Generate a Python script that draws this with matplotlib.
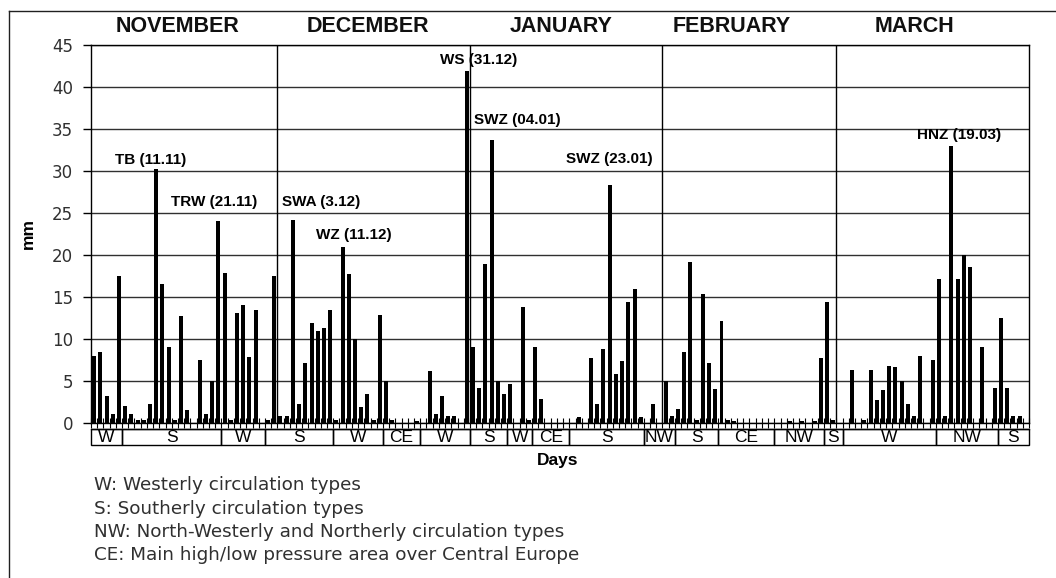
import matplotlib
matplotlib.use("Agg")
import matplotlib.pyplot as plt
import matplotlib.transforms as mtransforms
from matplotlib.lines import Line2D
from matplotlib.patches import Rectangle
import numpy as np

plt.rcParams['font.family'] = ['Liberation Sans', 'DejaVu Sans']

# ---------------- data ----------------
months = ["NOVEMBER", "DECEMBER", "JANUARY", "FEBRUARY", "MARCH"]
month_lengths = [30, 31, 31, 28, 31]

rain_nov = [8.0, 8.4, 3.2, 1.1, 17.5, 2.0, 1.1, 0.3, 0.4, 2.3,
            30.2, 16.6, 9.1, 0.4, 12.7, 1.5, 0.0, 7.5, 1.1, 5.0,
            24.1, 17.8, 0.3, 13.1, 14.1, 7.9, 13.4, 0.0, 0.4, 17.5]
rain_dec = [0.8, 0.8, 24.2, 2.3, 7.2, 11.9, 11.0, 11.3, 13.4, 0.4,
            21.0, 17.7, 10.0, 1.9, 3.4, 0.3, 12.9, 5.0, 0.3, 0.0,
            0.0, 0.0, 0.2, 0.0, 6.2, 1.1, 3.2, 0.8, 0.8, 0.0, 41.9]
rain_jan = [9.1, 4.2, 18.9, 33.7, 5.0, 3.4, 4.6, 0.0, 13.8, 0.35,
            9.1, 2.9, 0.0, 0.0, 0.0, 0.0, 0.0, 0.75, 0.0, 7.7,
            2.3, 8.8, 28.3, 5.8, 7.4, 14.4, 16.0, 0.75, 0.0, 2.3, 0.0]
rain_feb = [5.0, 0.8, 1.7, 8.4, 19.2, 0.4, 15.3, 7.2, 4.1, 12.2,
            0.3, 0.2, 0.0, 0.0, 0.0, 0.0, 0.0, 0.0, 0.0, 0.0,
            0.2, 0.0, 0.2, 0.0, 0.2, 7.7, 14.4, 0.4]
rain_mar = [0.0, 0.0, 6.3, 0.0, 0.3, 6.3, 2.7, 3.9, 6.8, 6.7,
            5.0, 2.3, 0.8, 8.0, 0.0, 7.5, 17.1, 0.8, 33.0, 17.1,
            20.0, 18.6, 0.0, 9.1, 0.0, 4.2, 12.5, 4.2, 0.8, 0.8, 0.0]

rain = rain_nov + rain_dec + rain_jan + rain_feb + rain_mar
days = np.arange(1, len(rain) + 1)

# circulation-type segments (label, first day, last day; day 1 = 1 Nov)
seg_labels = ["W", "S", "W", "S", "W", "CE", "W", "S", "W", "CE",
              "S", "NW", "S", "CE", "NW", "S", "W", "NW", "S"]
seg_start = [1, 6, 22, 29, 40, 48, 54, 62, 68, 72,
             78, 90, 95, 102, 111, 119, 122, 137, 147]
seg_end = [5, 21, 28, 39, 47, 53, 61, 67, 71, 77,
           89, 94, 101, 110, 118, 121, 136, 146, 151]

# event annotations
ann_labels = ["TB (11.11)", "TRW (21.11)", "SWA (3.12)", "WZ (11.12)",
              "WS (31.12)", "SWZ (04.01)", "SWZ (23.01)", "HNZ (19.03)"]
ann_x = [4.4, 13.3, 31.2, 36.8, 56.7, 62.1, 77.0, 133.5]
ann_y = [31.3, 26.3, 26.3, 22.4, 43.2, 36.1, 31.4, 34.3]

legend_lines = ["W: Westerly circulation types",
                "S: Southerly circulation types",
                "NW: North-Westerly and Northerly circulation types",
                "CE: Main high/low pressure area over Central Europe"]

# ---------------- figure ----------------
W, H = 1056, 578
fig = plt.figure(figsize=(W / 100, H / 100), dpi=100)
ax = fig.add_axes([91 / W, 1 - 423 / H, (1029 - 91) / W, (423 - 45) / H])

ax.bar(days, rain, width=0.64, color='black', zorder=3)

ax.set_xlim(0.5, len(rain) + 0.5)
ax.set_ylim(0, 45)
ax.set_yticks(np.arange(0, 46, 5))
ax.yaxis.grid(True, color='#303030', lw=1.0, zorder=1)
ax.tick_params(axis='y', direction='out', length=6, width=1, pad=7,
               labelsize=12, labelcolor='#303030')
for lbl in ax.get_yticklabels():
    lbl.set_family('DejaVu Sans')
ax.set_xticks(np.arange(0.5, len(rain) + 1, 1.0))
ax.tick_params(axis='x', direction='inout', length=6.5, width=0.8,
               labelbottom=False)
for s in ax.spines.values():
    s.set_color('black')
    s.set_linewidth(1.0)

# month separators and month names
bounds = np.cumsum(month_lengths)
for b in bounds[:-1]:
    ax.axvline(b + 0.5, color='black', lw=1.0, zorder=2)
month_label_shift = [-1.0, -0.9, -0.8, -2.8, -3.0]
starts = np.concatenate([[0], bounds[:-1]])
for name, s0, ln, sh in zip(months, starts, month_lengths, month_label_shift):
    ax.text(s0 + ln / 2 + 0.5 + sh, 1.048, name, transform=ax.get_xaxis_transform(),
            ha='center', va='center', fontsize=15.5, fontweight='bold',
            color='#101010')

# annotations
for lab, x, y in zip(ann_labels, ann_x, ann_y):
    ax.text(x, y, lab, ha='left', va='center', fontsize=11,
            fontweight='bold', color='black', zorder=4)

# circulation strip below axis
trans = mtransforms.blended_transform_factory(ax.transData, ax.transAxes)
y_top = -5.5 / 378
y_bot = -22 / 378
ax.add_line(Line2D([0.5, len(rain) + 0.5], [y_top, y_top], transform=trans,
                   color='black', lw=1.0, clip_on=False))
for lab, a, b in zip(seg_labels, seg_start, seg_end):
    ax.add_patch(Rectangle((a - 0.5, y_bot), b - a + 1, y_top - y_bot,
                           transform=trans, fill=False, edgecolor='black',
                           lw=1.0, clip_on=False))
    ax.text((a + b) / 2, (y_top + y_bot) / 2 - 0.002, lab, transform=trans,
            ha='center', va='center', fontsize=12.5, color='black',
            clip_on=False)

# axis labels
fig.text(558 / W, 1 - 461 / H, "Days", ha='center', va='center',
         fontsize=12.5, fontweight='bold')
fig.text(28 / W, 1 - 233 / H, "mm", ha='center', va='center',
         fontsize=12.5, fontweight='bold', rotation=90)

# legend text
for i, line in enumerate(legend_lines):
    fig.text(94 / W, 1 - (485 + 23.5 * i) / H, line, ha='left', va='center',
             fontsize=13.2, color='#303030', family='DejaVu Sans')

# outer frame (left and top)
fig.add_artist(Line2D([8.5 / W, 8.5 / W], [0, 1 - 11 / H], transform=fig.transFigure,
                      color='#202020', lw=1.0))
fig.add_artist(Line2D([8.5 / W, 1], [1 - 11 / H, 1 - 11 / H], transform=fig.transFigure,
                      color='#202020', lw=1.0))

fig.savefig("out.png", dpi=100, facecolor='white')
